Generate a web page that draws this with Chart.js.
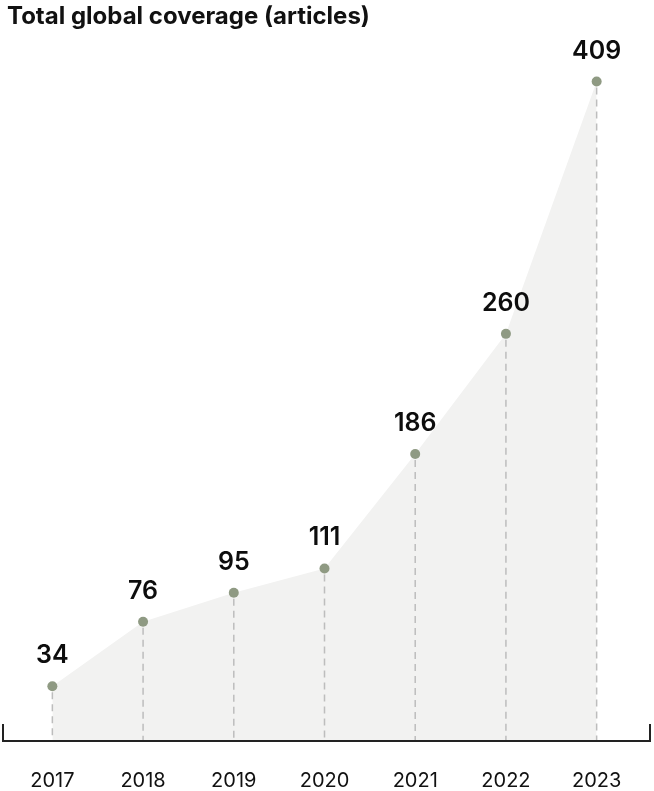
<!DOCTYPE html>
<html><head><meta charset="utf-8">
<script src="https://cdn.jsdelivr.net/npm/chart.js@4/dist/chart.umd.min.js"></script>
<style>html,body{margin:0;padding:0;background:#fff;overflow:hidden}#wrap{width:654px;height:791px;position:relative}</style>
</head><body><div id="wrap"><canvas id="c"></canvas></div>
<script>
const titleText = 'Total global coverage (articles)';
const years = ['2017', '2018', '2019', '2020', '2021', '2022', '2023'];
// value labels printed on the chart
const articles = [34, 76, 95, 111, 186, 260, 409];
// heights of the marks (the reference's marks sit slightly below a strict linear scale)
const plotted = [34, 74, 92, 107, 178, 252.5, 409];

const FONT = 'Inter, "Liberation Sans", Arial, sans-serif';

const dropLines = {
  id: 'dropLines',
  afterDatasetDraw(chart, args) {
    if (args.index !== 1) return;
    const ctx = chart.ctx;
    const y0 = chart.scales.y.getPixelForValue(0);
    ctx.save();
    ctx.strokeStyle = '#bdbdbd';
    ctx.lineWidth = 1.5;
    ctx.setLineDash([7, 5]);
    chart.getDatasetMeta(1).data.forEach(p => {
      ctx.beginPath();
      ctx.moveTo(p.x, p.y + 6);
      ctx.lineTo(p.x, y0);
      ctx.stroke();
    });
    ctx.restore();
  }
};

const valueLabels = {
  id: 'valueLabels',
  afterDatasetsDraw(chart) {
    const ctx = chart.ctx;
    ctx.save();
    ctx.fillStyle = '#0d0d0d';
    ctx.font = '600 25px ' + FONT;
    ctx.textAlign = 'center';
    ctx.textBaseline = 'alphabetic';
    chart.getDatasetMeta(0).data.forEach((p, i) => {
      ctx.fillText(String(articles[i]), p.x, p.y - 23);
    });
    ctx.restore();
  }
};

const axisLine = {
  id: 'axisLine',
  afterDraw(chart) {
    const ctx = chart.ctx;
    const a = chart.chartArea;
    const y0 = chart.scales.y.getPixelForValue(0);
    const l = a.left - 4, r = a.right + 8;
    ctx.save();
    ctx.strokeStyle = '#222';
    ctx.lineWidth = 2;
    ctx.beginPath();
    ctx.moveTo(l, y0 - 17);
    ctx.lineTo(l, y0);
    ctx.lineTo(r, y0);
    ctx.lineTo(r, y0 - 17);
    ctx.stroke();
    ctx.restore();
  }
};

new Chart(document.getElementById('c'), {
  type: 'line',
  data: {
    labels: years,
    datasets: [
      {
        data: plotted,
        showLine: false,
        fill: false,
        pointRadius: 5,
        pointBackgroundColor: '#8f9a83',
        pointBorderWidth: 0,
        clip: false
      },
      {
        data: plotted,
        borderWidth: 0,
        borderColor: 'rgba(0,0,0,0)',
        backgroundColor: '#f2f2f1',
        fill: 'origin',
        pointRadius: 0,
        tension: 0
      }
    ]
  },
  options: {
    responsive: true,
    maintainAspectRatio: false,
    animation: false,
    devicePixelRatio: 1,
    layout: { padding: { left: 7, right: 12, top: 0, bottom: -30 } },
    plugins: {
      legend: { display: false },
      tooltip: { enabled: false },
      title: {
        display: true,
        text: titleText,
        align: 'start',
        color: '#111',
        font: { family: FONT, size: 24, weight: '700', lineHeight: 1.2 },
        padding: { top: 2, bottom: 33 }
      }
    },
    scales: {
      x: {
        offset: true,
        grid: { display: false, drawTicks: false },
        border: { display: false },
        ticks: { color: '#111', font: { family: FONT, size: 20 }, padding: 28, maxRotation: 0 }
      },
      y: {
        display: false,
        min: 0,
        max: 420
      }
    }
  },
  plugins: [dropLines, valueLabels, axisLine]
});
</script>
</body></html>
